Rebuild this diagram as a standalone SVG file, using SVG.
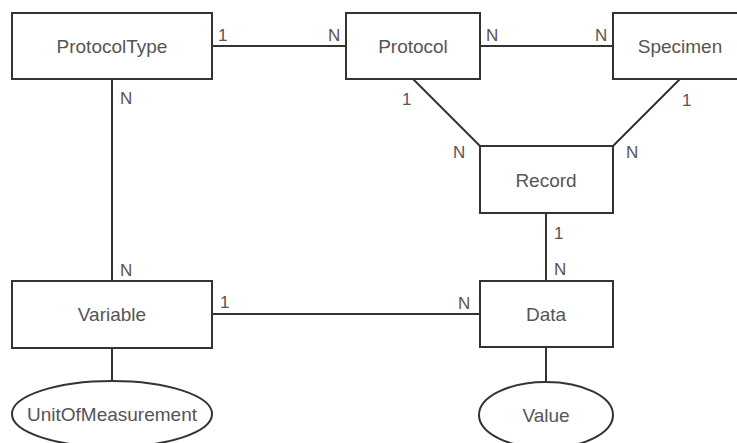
<svg xmlns="http://www.w3.org/2000/svg" width="737" height="443" viewBox="0 0 737 443">
<style>
.box{fill:#fff;stroke:#333;stroke-width:2}
.ln{stroke:#333;stroke-width:2;fill:none}
.t{font-family:"Liberation Sans",Arial,sans-serif;font-size:19px;fill:#555;text-anchor:middle}
.l{font-family:"Liberation Sans",Arial,sans-serif;font-size:17px;fill:#555}
</style>
<rect width="737" height="443" fill="#fff"/>
<g id="connectors">
<line class="ln" x1="212" y1="46" x2="346" y2="46"/>
<line class="ln" x1="480" y1="46" x2="613" y2="46"/>
<line class="ln" x1="413" y1="79" x2="480" y2="146"/>
<line class="ln" x1="680" y1="79" x2="613" y2="146"/>
<line class="ln" x1="546" y1="213" x2="546" y2="281"/>
<line class="ln" x1="112" y1="79" x2="112" y2="281"/>
<line class="ln" x1="212" y1="314" x2="480" y2="314"/>
<line class="ln" x1="112" y1="348" x2="112" y2="381"/>
<line class="ln" x1="546" y1="347" x2="546" y2="382"/>
<text class="l" x="218" y="41">1</text>
<text class="l" x="328" y="41">N</text>
<text class="l" x="486" y="41">N</text>
<text class="l" x="595" y="41">N</text>
<text class="l" x="402" y="105">1</text>
<text class="l" x="682" y="106">1</text>
<text class="l" x="453" y="158">N</text>
<text class="l" x="626" y="158">N</text>
<text class="l" x="554" y="239">1</text>
<text class="l" x="554" y="275">N</text>
<text class="l" x="458" y="309">N</text>
<text class="l" x="120" y="104">N</text>
<text class="l" x="120" y="276">N</text>
<text class="l" x="220" y="308">1</text>
</g>
<g id="ProtocolType"><rect class="box" x="12" y="13" width="200" height="66"/><text class="t" x="112" y="53">ProtocolType</text></g>
<g id="Protocol"><rect class="box" x="346" y="13" width="134" height="66"/><text class="t" x="413" y="53">Protocol</text></g>
<g id="Specimen"><rect class="box" x="613" y="13" width="134" height="66"/><text class="t" x="680" y="53">Specimen</text></g>
<g id="Record"><rect class="box" x="480" y="146" width="133" height="67"/><text class="t" x="546" y="187">Record</text></g>
<g id="Variable"><rect class="box" x="12" y="281" width="200" height="67"/><text class="t" x="112" y="321">Variable</text></g>
<g id="Data"><rect class="box" x="480" y="281" width="133" height="66"/><text class="t" x="546" y="321">Data</text></g>
<g id="UnitOfMeasurement"><ellipse class="box" cx="112" cy="414" rx="100" ry="33"/><text class="t" x="112" y="421">UnitOfMeasurement</text></g>
<g id="Value"><ellipse class="box" cx="546" cy="415" rx="67" ry="33"/><text class="t" x="546" y="422">Value</text></g>
</svg>
